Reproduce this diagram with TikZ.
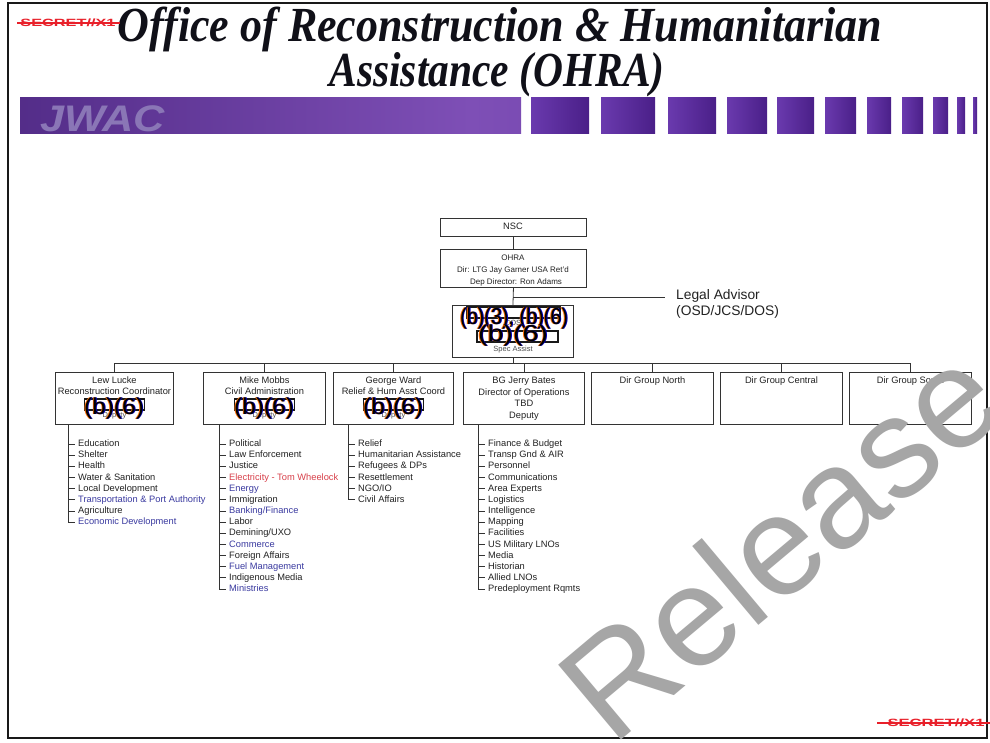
\documentclass[tikz,border=0pt]{standalone}
\usepackage{fontspec}
\usepackage{graphicx}
\setmainfont{Liberation Sans}
\newfontfamily\ttlfont{Liberation Serif}
\definecolor{secred}{HTML}{E8202A}
\definecolor{wmgray}{HTML}{A6A6A6}
\definecolor{bluetxt}{HTML}{3A3AA0}
\definecolor{redtxt}{HTML}{D8404A}
\definecolor{purA}{HTML}{3C1A70}
\definecolor{purB}{HTML}{7E4FB6}
\definecolor{purC}{HTML}{6A3AA6}
\definecolor{sqA}{HTML}{6A3AAE}
\definecolor{sqB}{HTML}{4A1F88}
\definecolor{jwac}{HTML}{8A76B6}
\definecolor{linec}{HTML}{333333}
\definecolor{txtc}{HTML}{222222}
\definecolor{titc}{HTML}{101018}
\pgfdeclarehorizontalshading{barsh}{100bp}{color(0bp)=(purA); color(70bp)=(purB); color(100bp)=(purC)}
\usetikzlibrary{calc}
\newcommand\lit[5]{%
  \node[litem,text=#4] (#1) at (#2+7,{444+11.15*(#3-1)}) {#5};
  \draw[conn] (#2,{444+11.15*(#3-1)}) -- (#1.mid west);}
\newcommand\redtext[5]{%
  \node[redt,text=orange!85!red] at (#2-0.9,#3) {\resizebox{#4pt}{\height}{#5}};
  \node[redt,text=blue!75!black] at (#2+0.9,#3) {\resizebox{#4pt}{\height}{#5}};
  \node[redt,text=black] (#1) at (#2,#3) {\resizebox{#4pt}{\height}{#5}};}
\begin{document}
\begin{tikzpicture}[x=1pt,y=-1pt,
  orgbox/.style={draw=linec,line width=0.9pt,inner sep=0,anchor=north west},
  conn/.style={draw=linec,line width=0.8pt},
  ct/.style={inner sep=0,anchor=mid,font=\fontsize{9.3}{11}\selectfont,text=txtc},
  ot/.style={inner sep=0,anchor=mid,font=\fontsize{8}{10}\selectfont,text=txtc},
  small/.style={inner sep=0,anchor=mid,font=\fontsize{7.5}{9}\selectfont,text=black!70},
  litem/.style={inner xsep=3pt,inner ysep=0,anchor=mid west,font=\fontsize{9.3}{11}\selectfont},
  redt/.style={inner sep=0,anchor=center,font=\fontsize{23}{24}\selectfont},
  redbox/.style={draw=black!90,line width=1.8pt},
  strike/.style={draw=secred,line width=1.4pt},
  sq/.style={left color=sqA,right color=sqB,draw=none}]
\useasboundingbox (0,0) rectangle (990,742);
\fill[white] (0,0) rectangle (990,742);
% frame
\draw[line width=2.5pt,black!90] (8,3) rectangle (987,738);
% title
\node[inner sep=0,anchor=base,text=titc] (t1) at (500,41) {\resizebox{764pt}{\height}{\ttlfont\bfseries\itshape\fontsize{49}{49}\selectfont Office of Reconstruction \& Humanitarian}};
\node[inner sep=0,anchor=base,text=titc] (t2) at (497,86) {\resizebox{335pt}{\height}{\ttlfont\bfseries\itshape\fontsize{49}{49}\selectfont Assistance (OHRA)}};
% classification top-left
\node[inner sep=0,anchor=center,text=secred] (sec1) at (68,23) {\resizebox{95pt}{\height}{\bfseries\fontsize{10.5}{11}\selectfont SECRET//X1}};
\draw[strike] ([xshift=-3pt]sec1.west) -- ([xshift=4pt]sec1.east);
% purple bar
\shade[shading=barsh] (20,97) rectangle (521,133);
\node[inner sep=0,anchor=base west,text=jwac] (jw) at (40,131) {\resizebox{125pt}{\height}{\bfseries\itshape\fontsize{37}{37}\selectfont JWAC}};
\foreach \a/\b in {531/589,601/655,668/716,727/767,777/814,825/856,867/891,902/923,933/948,957/965,973/977}
  \shade[sq] (\a,97) rectangle (\b,133);
% top boxes
\node[orgbox,minimum width=146pt,minimum height=18pt] (nsc) at (440,218) {};
\node[ct] (nsct) at (513,227) {NSC};
\node[orgbox,minimum width=146pt,minimum height=38pt] (ohra) at (440,249) {};
\node[ot] (ohra1) at (513,258) {OHRA};
\node[ot] (ohra2) at (513,270) {Dir: LTG Jay Garner USA Ret'd};
\node[ot] (ohra3) at (516,282) {Dep Director: Ron Adams};
\node[orgbox,minimum width=121pt,minimum height=52pt] (cos) at (452,305) {};
\node[small] (cos1) at (513,323) {COS};
\node[small] (cos2) at (513,349) {Spec Assist};
\draw[conn] (nsc.south) -- (ohra.north);
\draw[conn] (ohra.south) -- (cos.north);
\coordinate (legj) at (513,297);
\node[inner xsep=11pt,inner ysep=0,anchor=west,align=left,font=\fontsize{13.8}{16}\selectfont,text=txtc] (legal) at (665,304) {Legal Advisor\\(OSD/JCS/DOS)};
\draw[conn] (legj) -- (legj -| legal.west);
% second row boxes
\node[orgbox,minimum width=118pt,minimum height=52pt] (b1) at (55,372) {};
\node[orgbox,minimum width=122pt,minimum height=52pt] (b2) at (203,372) {};
\node[orgbox,minimum width=120pt,minimum height=52pt] (b3) at (333,372) {};
\node[orgbox,minimum width=121pt,minimum height=52pt] (b4) at (463,372) {};
\node[orgbox,minimum width=122pt,minimum height=52pt] (b5) at (591,372) {};
\node[orgbox,minimum width=122pt,minimum height=52pt] (b6) at (720,372) {};
\node[orgbox,minimum width=122pt,minimum height=52pt] (b7) at (849,372) {};
\coordinate (busL) at (b1.north |- 0,363);
\coordinate (busR) at (b7.north |- 0,363);
\draw[conn] (busL) -- (busR);
\draw[conn] (cos.south) -- (cos.south |- busL);
\foreach \b in {b1,b2,b3,b4,b5,b6,b7} \draw[conn] (\b.north |- busL) -- (\b.north);
% box texts
\node[ct] (b1a) at (b1.north |- 0,381) {Lew Lucke};
\node[ct] (b1b) at (b1.north |- 0,392) {Reconstruction Coordinator};
\node[small] (b1c) at (b1.north |- 0,415) {Deputy};
\node[ct] (b2a) at (b2.north |- 0,381) {Mike Mobbs};
\node[ct] (b2b) at (b2.north |- 0,392) {Civil Administration};
\node[small] (b2c) at (b2.north |- 0,415) {Deputy};
\node[ct] (b3a) at (b3.north |- 0,381) {George Ward};
\node[ct] (b3b) at (b3.north |- 0,392) {Relief \& Hum Asst Coord};
\node[small] (b3c) at (b3.north |- 0,415) {Deputy};
\node[ct] (b4a) at (b4.north |- 0,381) {BG Jerry Bates};
\node[ct] (b4b) at (b4.north |- 0,392.5) {Director of Operations};
\node[ct] (b4c) at (b4.north |- 0,404) {TBD};
\node[ct] (b4d) at (b4.north |- 0,415.5) {Deputy};
\node[ct] (b5a) at (b5.north |- 0,381) {Dir Group North};
\node[ct] (b6a) at (b6.north |- 0,381) {Dir Group Central};
\node[ct] (b7a) at (b7.north |- 0,381) {Dir Group South};
% lists
\draw[conn] (68,424) -- (68,{444+11.15*7});
\lit{c1a}{68}{1}{txtc}{Education}
\lit{c1b}{68}{2}{txtc}{Shelter}
\lit{c1c}{68}{3}{txtc}{Health}
\lit{c1d}{68}{4}{txtc}{Water \& Sanitation}
\lit{c1e}{68}{5}{txtc}{Local Development}
\lit{c1f}{68}{6}{bluetxt}{Transportation \& Port Authority}
\lit{c1g}{68}{7}{txtc}{Agriculture}
\lit{c1h}{68}{8}{bluetxt}{Economic Development}
\draw[conn] (219,424) -- (219,{444+11.15*13});
\lit{c2a}{219}{1}{txtc}{Political}
\lit{c2b}{219}{2}{txtc}{Law Enforcement}
\lit{c2c}{219}{3}{txtc}{Justice}
\lit{c2d}{219}{4}{redtxt}{Electricity - Tom Wheelock}
\lit{c2e}{219}{5}{bluetxt}{Energy}
\lit{c2f}{219}{6}{txtc}{Immigration}
\lit{c2g}{219}{7}{bluetxt}{Banking/Finance}
\lit{c2h}{219}{8}{txtc}{Labor}
\lit{c2i}{219}{9}{txtc}{Demining/UXO}
\lit{c2j}{219}{10}{bluetxt}{Commerce}
\lit{c2k}{219}{11}{txtc}{Foreign Affairs}
\lit{c2l}{219}{12}{bluetxt}{Fuel Management}
\lit{c2m}{219}{13}{txtc}{Indigenous Media}
\lit{c2n}{219}{14}{bluetxt}{Ministries}
\draw[conn] (348,424) -- (348,{444+11.15*5});
\lit{c3a}{348}{1}{txtc}{Relief}
\lit{c3b}{348}{2}{txtc}{Humanitarian Assistance}
\lit{c3c}{348}{3}{txtc}{Refugees \& DPs}
\lit{c3d}{348}{4}{txtc}{Resettlement}
\lit{c3e}{348}{5}{txtc}{NGO/IO}
\lit{c3f}{348}{6}{txtc}{Civil Affairs}
\draw[conn] (478,424) -- (478,{444+11.15*13});
\lit{c4a}{478}{1}{txtc}{Finance \& Budget}
\lit{c4b}{478}{2}{txtc}{Transp Gnd \& AIR}
\lit{c4c}{478}{3}{txtc}{Personnel}
\lit{c4d}{478}{4}{txtc}{Communications}
\lit{c4e}{478}{5}{txtc}{Area Experts}
\lit{c4f}{478}{6}{txtc}{Logistics}
\lit{c4g}{478}{7}{txtc}{Intelligence}
\lit{c4h}{478}{8}{txtc}{Mapping}
\lit{c4i}{478}{9}{txtc}{Facilities}
\lit{c4j}{478}{10}{txtc}{US Military LNOs}
\lit{c4k}{478}{11}{txtc}{Media}
\lit{c4l}{478}{12}{txtc}{Historian}
\lit{c4m}{478}{13}{txtc}{Allied LNOs}
\lit{c4n}{478}{14}{txtc}{Predeployment Rqmts}
% redactions
\draw[redbox] (467,307) rectangle (560,318);
\redtext{rc1}{514}{319}{108}{(b)(3), (b)(6)}
\draw[redbox] (477,331) rectangle (558,342);
\redtext{rc2}{513}{336}{70}{(b)(6)}
\foreach \b in {b1,b2,b3}{
  \draw[redbox] ($(\b.north |- 0,399)+(-30,0)$) rectangle ($(\b.north |- 0,410)+(30,0)$);
}
\redtext{rb1}{114}{409}{60}{(b)(6)}
\redtext{rb2}{264}{409}{60}{(b)(6)}
\redtext{rb3}{393}{409}{60}{(b)(6)}
% bottom-right classification
\node[inner sep=0,anchor=center,text=secred] (sec2) at (936,723) {\resizebox{97pt}{\height}{\bfseries\fontsize{10.5}{11}\selectfont SECRET//X1}};
\draw[strike] ([xshift=-10pt]sec2.west) -- ([xshift=6pt]sec2.east);
% watermark
\node[rotate=40,inner sep=0,anchor=base west,text=wmgray,font=\fontsize{142}{142}\selectfont] (wm) at (612,748) {Release};
\end{tikzpicture}
\end{document}
